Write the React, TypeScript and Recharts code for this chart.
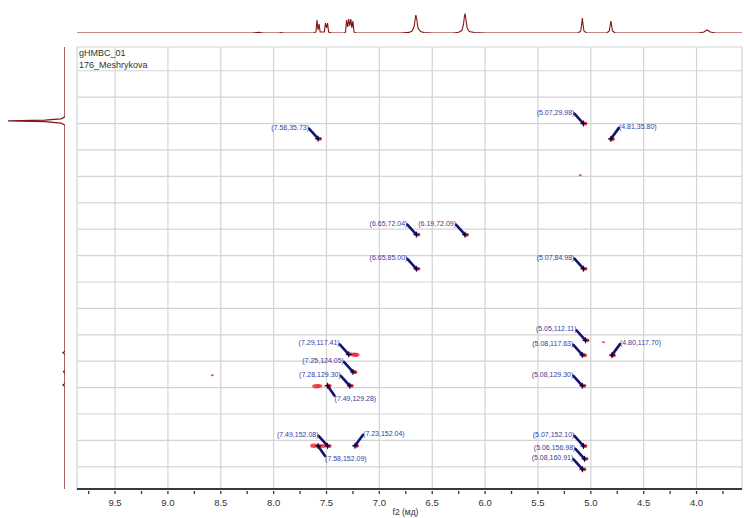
import React from 'react';
import {
  ScatterChart,
  Scatter,
  XAxis,
  YAxis,
  ReferenceLine,
  ReferenceArea,
  LineChart,
  Line,
} from 'recharts';

// ---------- axis data ----------
const F2_DOMAIN: [number, number] = [3.57, 9.86];
const F1_DOMAIN: [number, number] = [1, 168.4];
const F2_TICKS = [3.75, 4.0, 4.25, 4.5, 4.75, 5.0, 5.25, 5.5, 5.75, 6.0, 6.25, 6.5, 6.75, 7.0, 7.25, 7.5, 7.75, 8.0, 8.25, 8.5, 8.75, 9.0, 9.25, 9.5, 9.75];
const F2_GRID = [4.0, 4.5, 5.0, 5.5, 6.0, 6.5, 7.0, 7.5, 8.0, 8.5, 9.0, 9.5];
const F1_GRID = [10, 20, 30, 40, 50, 60, 70, 80, 90, 100, 110, 120, 130, 140, 150, 160];
const X_TITLE = 'f2 (мд)';
const HEADER_LINES = ['gHMBC_01', '176_Meshrykova'];

// ---------- cross peaks ----------
const PEAK_F2 = [7.58, 5.07, 4.81, 6.65, 6.19, 6.65, 5.07, 5.05, 5.08, 4.8, 7.29, 7.25, 7.28, 7.49, 5.08, 7.49, 7.58, 7.23, 5.07, 5.06, 5.08];
const PEAK_F1 = [35.73, 29.98, 35.8, 72.04, 72.09, 85.0, 84.98, 112.11, 117.63, 117.7, 117.41, 124.05, 129.3, 129.28, 129.3, 152.08, 152.09, 152.04, 152.1, 156.98, 160.91];
const PEAK_LABEL_SIDE = ['ul', 'ul', 'ur', 'ul', 'ul', 'ul', 'ul', 'ul', 'ul', 'ur', 'ul', 'ul', 'ul', 'dr', 'ul', 'ul', 'dr', 'ur', 'ul', 'ul', 'ul'];

// extra contour blobs (red) without labels
const BLOB_F2 = [7.22, 7.24, 7.23, 7.6, 7.57, 7.62, 7.53, 5.06, 8.58, 5.1, 4.88];
const BLOB_F1 = [117.6, 117.5, 124.2, 129.5, 129.4, 152.0, 152.1, 117.8, 125.3, 49.6, 112.8];
const BLOB_SIZE = [1.3, 1.3, 1.0, 1.4, 1.2, 1.4, 1.2, 1.1, 0.6, 0.6, 0.6];

// ---------- 1D projections ----------
const TOP_SPECTRUM: [number, number][] = [
  [9.86, 0], [8.2, 0], [8.14, 0.6], [8.1, 0], [7.95, 0], [7.93, 0.5], [7.9, 0],
  [7.62, 0], [7.6, 1], [7.59, 13], [7.58, 3], [7.57, 9], [7.56, 1], [7.52, 1],
  [7.51, 10], [7.5, 5], [7.49, 10], [7.48, 1], [7.45, 0],
  [7.33, 0], [7.32, 1], [7.31, 13], [7.3, 6], [7.29, 14], [7.28, 7], [7.27, 14],
  [7.26, 5], [7.25, 12], [7.24, 1], [7.22, 0],
  [6.8, 0], [6.72, 0.6], [6.69, 2], [6.67, 7], [6.66, 15], [6.655, 18], [6.645, 13],
  [6.635, 5], [6.61, 1.5], [6.58, 0.5], [6.5, 0],
  [6.3, 0], [6.25, 0.8], [6.22, 2.5], [6.205, 8], [6.195, 17], [6.19, 19.5], [6.18, 13],
  [6.17, 5], [6.15, 1.5], [6.1, 0.5], [6.0, 0],
  [5.12, 0], [5.095, 2], [5.085, 10], [5.08, 15], [5.075, 10], [5.065, 2], [5.04, 0],
  [4.85, 0], [4.825, 2], [4.815, 9], [4.81, 12], [4.805, 9], [4.795, 2], [4.77, 0],
  [3.98, 0], [3.93, 1], [3.9, 3], [3.87, 1], [3.82, 0], [3.57, 0],
];

const LEFT_PROJ_F1 = [1, 27.4, 28.2, 28.7, 29.0, 29.3, 29.8, 30.6, 116.2, 116.8, 117.4, 123.4, 124.0, 124.6, 128.4, 129.0, 129.6, 168.4];
const LEFT_PROJ_I = [0, 0, 4, 20, 57, 20, 4, 0, 0, 2, 0, 0, 1.5, 0, 0, 2, 0, 0];

// ---------- built tables ----------
const peakData = PEAK_F2.map((f2, i) => ({
  f2,
  f1: PEAK_F1[i],
  side: PEAK_LABEL_SIDE[i],
  label: `(${f2.toFixed(2)},${PEAK_F1[i].toFixed(2)})`,
}));
const blobData = BLOB_F2.map((f2, i) => ({ f2, f1: BLOB_F1[i], s: BLOB_SIZE[i] }));
const topData = TOP_SPECTRUM.map(([ppm, v]) => ({ ppm, v }));
const leftData = LEFT_PROJ_F1.map((ppm, i) => ({ ppm, v: LEFT_PROJ_I[i] }));

const NAVY = '#14146e';
const LABEL_BLUE = '#3a3c9a';
const RED = '#e8262a';
const SPEC = '#861414';
const GRID = '#d4d4d4';
const FONT = '"Liberation Sans", Arial, sans-serif';

const PeakShape = (props: any) => {
  const { cx, cy, payload } = props;
  if (cx == null || cy == null) return null;
  const side = payload.side;
  let lx = 0, ly = 0, tx = 0, ty = 0;
  let anchor: 'start' | 'end' = 'end';
  if (side === 'ul') {
    lx = cx - 9; ly = cy - 10; tx = cx - 9; ty = cy - 9; anchor = 'end';
  } else if (side === 'ur') {
    lx = cx + 8; ly = cy - 11; tx = cx + 8; ty = cy - 10; anchor = 'start';
  } else {
    lx = cx + 7; ly = cy + 10; tx = cx + 7; ty = cy + 15; anchor = 'start';
  }
  return (
    <g>
      <ellipse cx={cx + 1} cy={cy} rx={3} ry={2} fill={RED} opacity={0.85} />
      <line x1={lx} y1={ly} x2={cx} y2={cy} stroke={NAVY} strokeWidth={2.6} strokeLinecap="round" />
      <line x1={cx - 3} x2={cx + 3} y1={cy} y2={cy} stroke="#000040" strokeWidth={1} />
      <line x1={cx} x2={cx} y1={cy - 3} y2={cy + 3} stroke="#000040" strokeWidth={1} />
      <text x={tx} y={ty} textAnchor={anchor} fontSize={7} fontFamily={FONT} fill={LABEL_BLUE}>
        {payload.label}
      </text>
    </g>
  );
};

const BlobShape = (props: any) => {
  const { cx, cy, payload } = props;
  if (cx == null || cy == null) return null;
  const s = payload.s;
  return <ellipse cx={cx} cy={cy} rx={2.6 * s} ry={1.6 * s} fill={RED} opacity={0.8} />;
};

const F2Tick = (props: any) => {
  const { x, y, payload } = props;
  const v = payload.value;
  const major = Math.abs(v * 2 - Math.round(v * 2)) < 1e-6;
  return (
    <g>
      <line x1={x} x2={x} y1={y + 2} y2={y + 5} stroke="#333" strokeWidth={1.3} />
      {major && (
        <text x={x} y={y + 17} textAnchor="middle" fontSize={9.5} fontFamily={FONT} fill="#333">
          {v.toFixed(1)}
        </text>
      )}
    </g>
  );
};

const XTitle = (props: any) => {
  const { viewBox } = props;
  if (!viewBox) return null;
  return (
    <text x={viewBox.x + viewBox.width / 2 - 4} y={viewBox.y + 26} textAnchor="middle" fontSize={8.5} fontFamily={FONT} fill="#333">
      {X_TITLE}
    </text>
  );
};

export default function App() {
  return (
    <div style={{ position: 'absolute', left: 0, top: 0, width: 744, height: 518, background: '#fff', overflow: 'hidden' }}>
      {/* top 1D spectrum */}
      <div style={{ position: 'absolute', left: 0, top: 0 }}>
        <LineChart width={744} height={34} data={topData} margin={{ top: 0, right: 2, bottom: 1, left: 77 }}>
          <XAxis type="number" dataKey="ppm" domain={F2_DOMAIN} reversed hide allowDataOverflow />
          <YAxis type="number" domain={[0, 33]} hide allowDataOverflow />
          <Line type="linear" dataKey="v" stroke={SPEC} strokeWidth={1.1} dot={false} isAnimationActive={false} />
        </LineChart>
      </div>

      {/* left 1D projection */}
      <div style={{ position: 'absolute', left: 0, top: 0 }}>
        <LineChart layout="vertical" width={70} height={518} data={leftData} margin={{ top: 47, right: 5, bottom: 29, left: 7 }}>
          <XAxis type="number" domain={[0, 58]} reversed hide allowDataOverflow />
          <YAxis type="number" dataKey="ppm" domain={F1_DOMAIN} hide allowDataOverflow />
          <Line type="linear" dataKey="v" stroke={SPEC} strokeWidth={1.3} dot={false} isAnimationActive={false} />
        </LineChart>
      </div>

      {/* main 2D plot */}
      <div style={{ position: 'absolute', left: 0, top: 0 }}>
        <ScatterChart width={744} height={518} margin={{ top: 47, right: 2, bottom: 0, left: 77 }}>
          <XAxis
            type="number"
            dataKey="f2"
            domain={F2_DOMAIN}
            reversed
            allowDataOverflow
            ticks={F2_TICKS}
            interval={0}
            tick={<F2Tick />}
            tickLine={false}
            tickSize={0}
            tickMargin={0}
            height={29}
            axisLine={{ stroke: '#3a3a3a', strokeWidth: 2 }}
            label={<XTitle />}
          />
          <YAxis type="number" dataKey="f1" domain={F1_DOMAIN} reversed hide allowDataOverflow width={0} />
          {F2_GRID.map((g) => (
            <ReferenceLine key={`vx${g}`} x={g} stroke={GRID} strokeWidth={1.2} />
          ))}
          {F1_GRID.map((g) => (
            <ReferenceLine key={`hy${g}`} y={g} stroke={GRID} strokeWidth={1.2} />
          ))}
          <ReferenceArea x1={F2_DOMAIN[0]} x2={F2_DOMAIN[1]} y1={F1_DOMAIN[0]} y2={F1_DOMAIN[1]} fill="none" fillOpacity={0} stroke={GRID} strokeWidth={1.2} />
          <Scatter data={blobData} shape={<BlobShape />} isAnimationActive={false} />
          <Scatter data={peakData} shape={<PeakShape />} isAnimationActive={false} />
        </ScatterChart>
      </div>

      {/* header text */}
      <div style={{ position: 'absolute', left: 79, top: 47, fontFamily: FONT, fontSize: 9, lineHeight: '12px', color: '#333' }}>
        {HEADER_LINES.map((t) => (
          <div key={t}>{t}</div>
        ))}
      </div>
    </div>
  );
}
